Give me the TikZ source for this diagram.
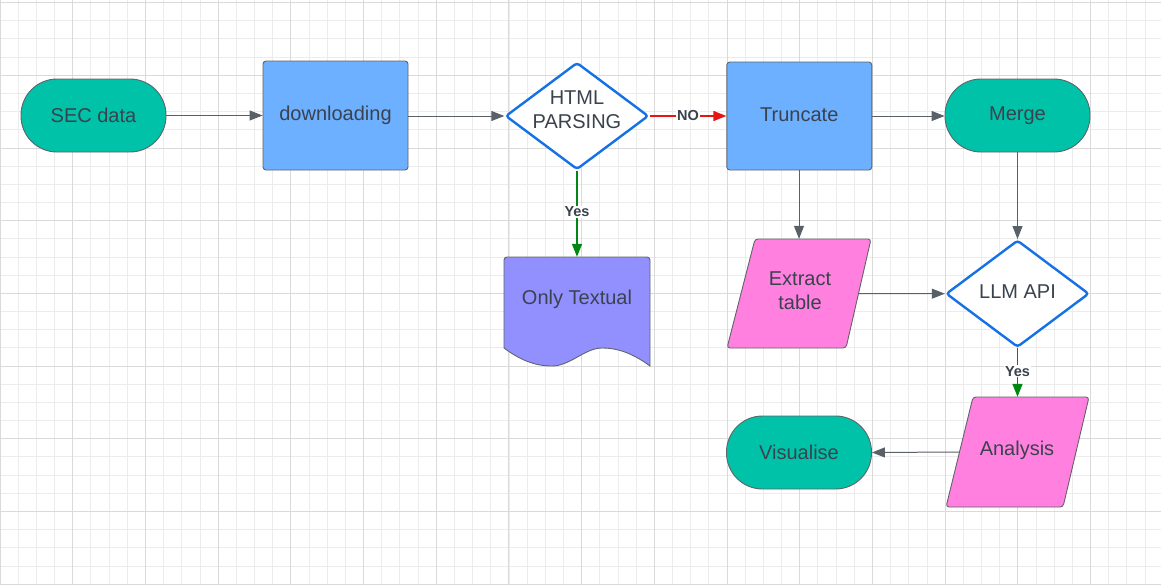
\documentclass[tikz,border=0pt]{standalone}
\usepackage{fontspec}
\setmainfont{Liberation Sans}
\usetikzlibrary{shapes.geometric,arrows.meta}
\definecolor{tealc}{RGB}{0,194,168}
\definecolor{procblue}{RGB}{108,176,255}
\definecolor{pinkc}{RGB}{255,128,223}
\definecolor{purplec}{RGB}{146,144,255}
\definecolor{decblue}{RGB}{22,113,229}
\definecolor{greenc}{RGB}{0,135,20}
\definecolor{redc}{RGB}{230,20,20}
\definecolor{textgray}{RGB}{58,66,78}
\definecolor{edgegray}{RGB}{95,100,106}
\definecolor{linegray}{RGB}{90,96,104}
\definecolor{minorgrid}{RGB}{236,236,236}
\definecolor{majorgrid}{RGB}{218,218,218}
\tikzset{
  txt/.style={text=textgray,font=\fontsize{20}{24}\selectfont,align=center},
  shapeedge/.style={draw=edgegray,line width=0.9pt},
  termbox/.style={shapeedge,fill=tealc,rectangle,rounded corners=36pt,minimum width=145pt,minimum height=73pt,txt},
  procbox/.style={shapeedge,fill=procblue,rectangle,rounded corners=3pt,minimum width=145pt,minimum height=108pt,txt},
  decbox/.style={diamond,draw=decblue,line width=2.4pt,fill=white,rounded corners=3pt,inner sep=0pt,aspect=1.336,minimum width=143pt,minimum height=107pt},
  ghost/.style={rectangle,inner sep=0pt},
  conn/.style={draw=linegray,line width=1pt,-{Triangle[length=13pt,width=10pt]}},
  yesline/.style={draw=greenc,line width=1.6pt,-{Triangle[length=13pt,width=10pt]}},
  noline/.style={draw=redc,line width=1.6pt,-{Triangle[length=13pt,width=10pt]}},
  lbl/.style={fill=white,inner sep=1pt,text=textgray,font=\fontsize{14.5}{16}\bfseries\selectfont},
  minorline/.style={draw=minorgrid,line width=1pt},
  majorline/.style={draw=majorgrid,line width=1pt}
}
\begin{document}
\begin{tikzpicture}[x=1pt,y=-1pt]
\useasboundingbox (0,0) rectangle (1161,584);
\fill[white] (0,0) rectangle (1161,584);
% grid (snapped to pixel centres)
\foreach \i in {0,...,64} {\pgfmathsetmacro{\gx}{round(-0.4+18.175*\i)+0.5}\draw[minorline] (\gx,0) -- (\gx,584);}
\foreach \i in {0,...,32} {\pgfmathsetmacro{\gy}{round(2.1+18.175*\i)+0.5}\draw[minorline] (0,\gy) -- (1161,\gy);}
\foreach \i in {0,...,16} {\pgfmathsetmacro{\gx}{round(-0.4+72.7*\i)+0.5}\draw[majorline] (\gx,0) -- (\gx,584);}
\foreach \i in {0,...,8} {\pgfmathsetmacro{\gy}{round(2.1+72.7*\i)+0.5}\draw[majorline] (0,\gy) -- (1161,\gy);}

% nodes
\node[termbox] (sec) at (93.5,115.5) {SEC data};
\node[procbox,minimum height=109pt] (dl) at (335.5,115.5) {downloading};
\node[decbox,label={[txt,yshift=6pt]center:{HTML\\PARSING}}] (html) at (577,116) {};
\node[procbox] (trunc) at (799.3,116) {\raisebox{2pt}{Truncate}};
\node[termbox] (merge) at (1017.5,115.5) {Merge};
\node[decbox,label={[txt,yshift=2.5pt]center:{LLM API}}] (llm) at (1017.5,293.7) {};

% Extract table (parallelogram)
\node[ghost,minimum width=118pt,minimum height=109pt] (ex) at (799,293.5) {};
\draw[shapeedge,fill=pinkc,rounded corners=3pt] (755,239) -- (871,239) -- (846,348) -- (727,348) -- cycle;
\node[txt] (extxt) at (800,291) {Extract\\table};

% Analysis (parallelogram)
\node[ghost,minimum width=116.5pt,minimum height=110pt] (an) at (1017.75,452) {};
\draw[shapeedge,fill=pinkc,rounded corners=3pt] (973,397) -- (1089,397) -- (1063,507) -- (946,507) -- cycle;
\node[txt] (antxt) at (1017,450) {Analysis};

\node[termbox] (vis) at (799,452.5) {Visualise};

% Only Textual (document)
\node[ghost,minimum width=146pt,minimum height=109pt] (ot) at (577,311.5) {};
\draw[shapeedge,fill=purplec] (504,348) -- (504,260) [rounded corners=3pt] -- (504,257) -- (650,257) [sharp corners] -- (650,366)
  .. controls (635,355) and (620,348) .. (602,348)
  .. controls (585,348) and (570,366) .. (552,366)
  .. controls (535,366) and (520,360) .. (504,348) -- cycle;
\node[txt] (ottxt) at (577,299.3) {Only Textual};

% connectors
\draw[conn] (sec.east) -- (dl.west |- sec.east);
\draw[conn] (dl.east |- html.west) -- (html.west);
\draw[noline] (html.east) -- node[lbl,pos=0.5] {NO} (trunc.west);
\draw[conn] (trunc.east) -- (merge.west |- trunc.east);
\draw[conn] (merge.south) -- (llm.north);
\draw[conn] (trunc.south -| ex.north) -- (ex.north);
\draw[conn] (ex.east) -- (llm.west);
\draw[yesline] (html.south) -- node[lbl,pos=0.48] {Yes} (ot.north);
\draw[yesline] (llm.south) -- node[lbl,pos=0.47] {Yes} (an.north -| llm.south);
\draw[conn] (an.west) -- (vis.east);
\end{tikzpicture}
\end{document}
